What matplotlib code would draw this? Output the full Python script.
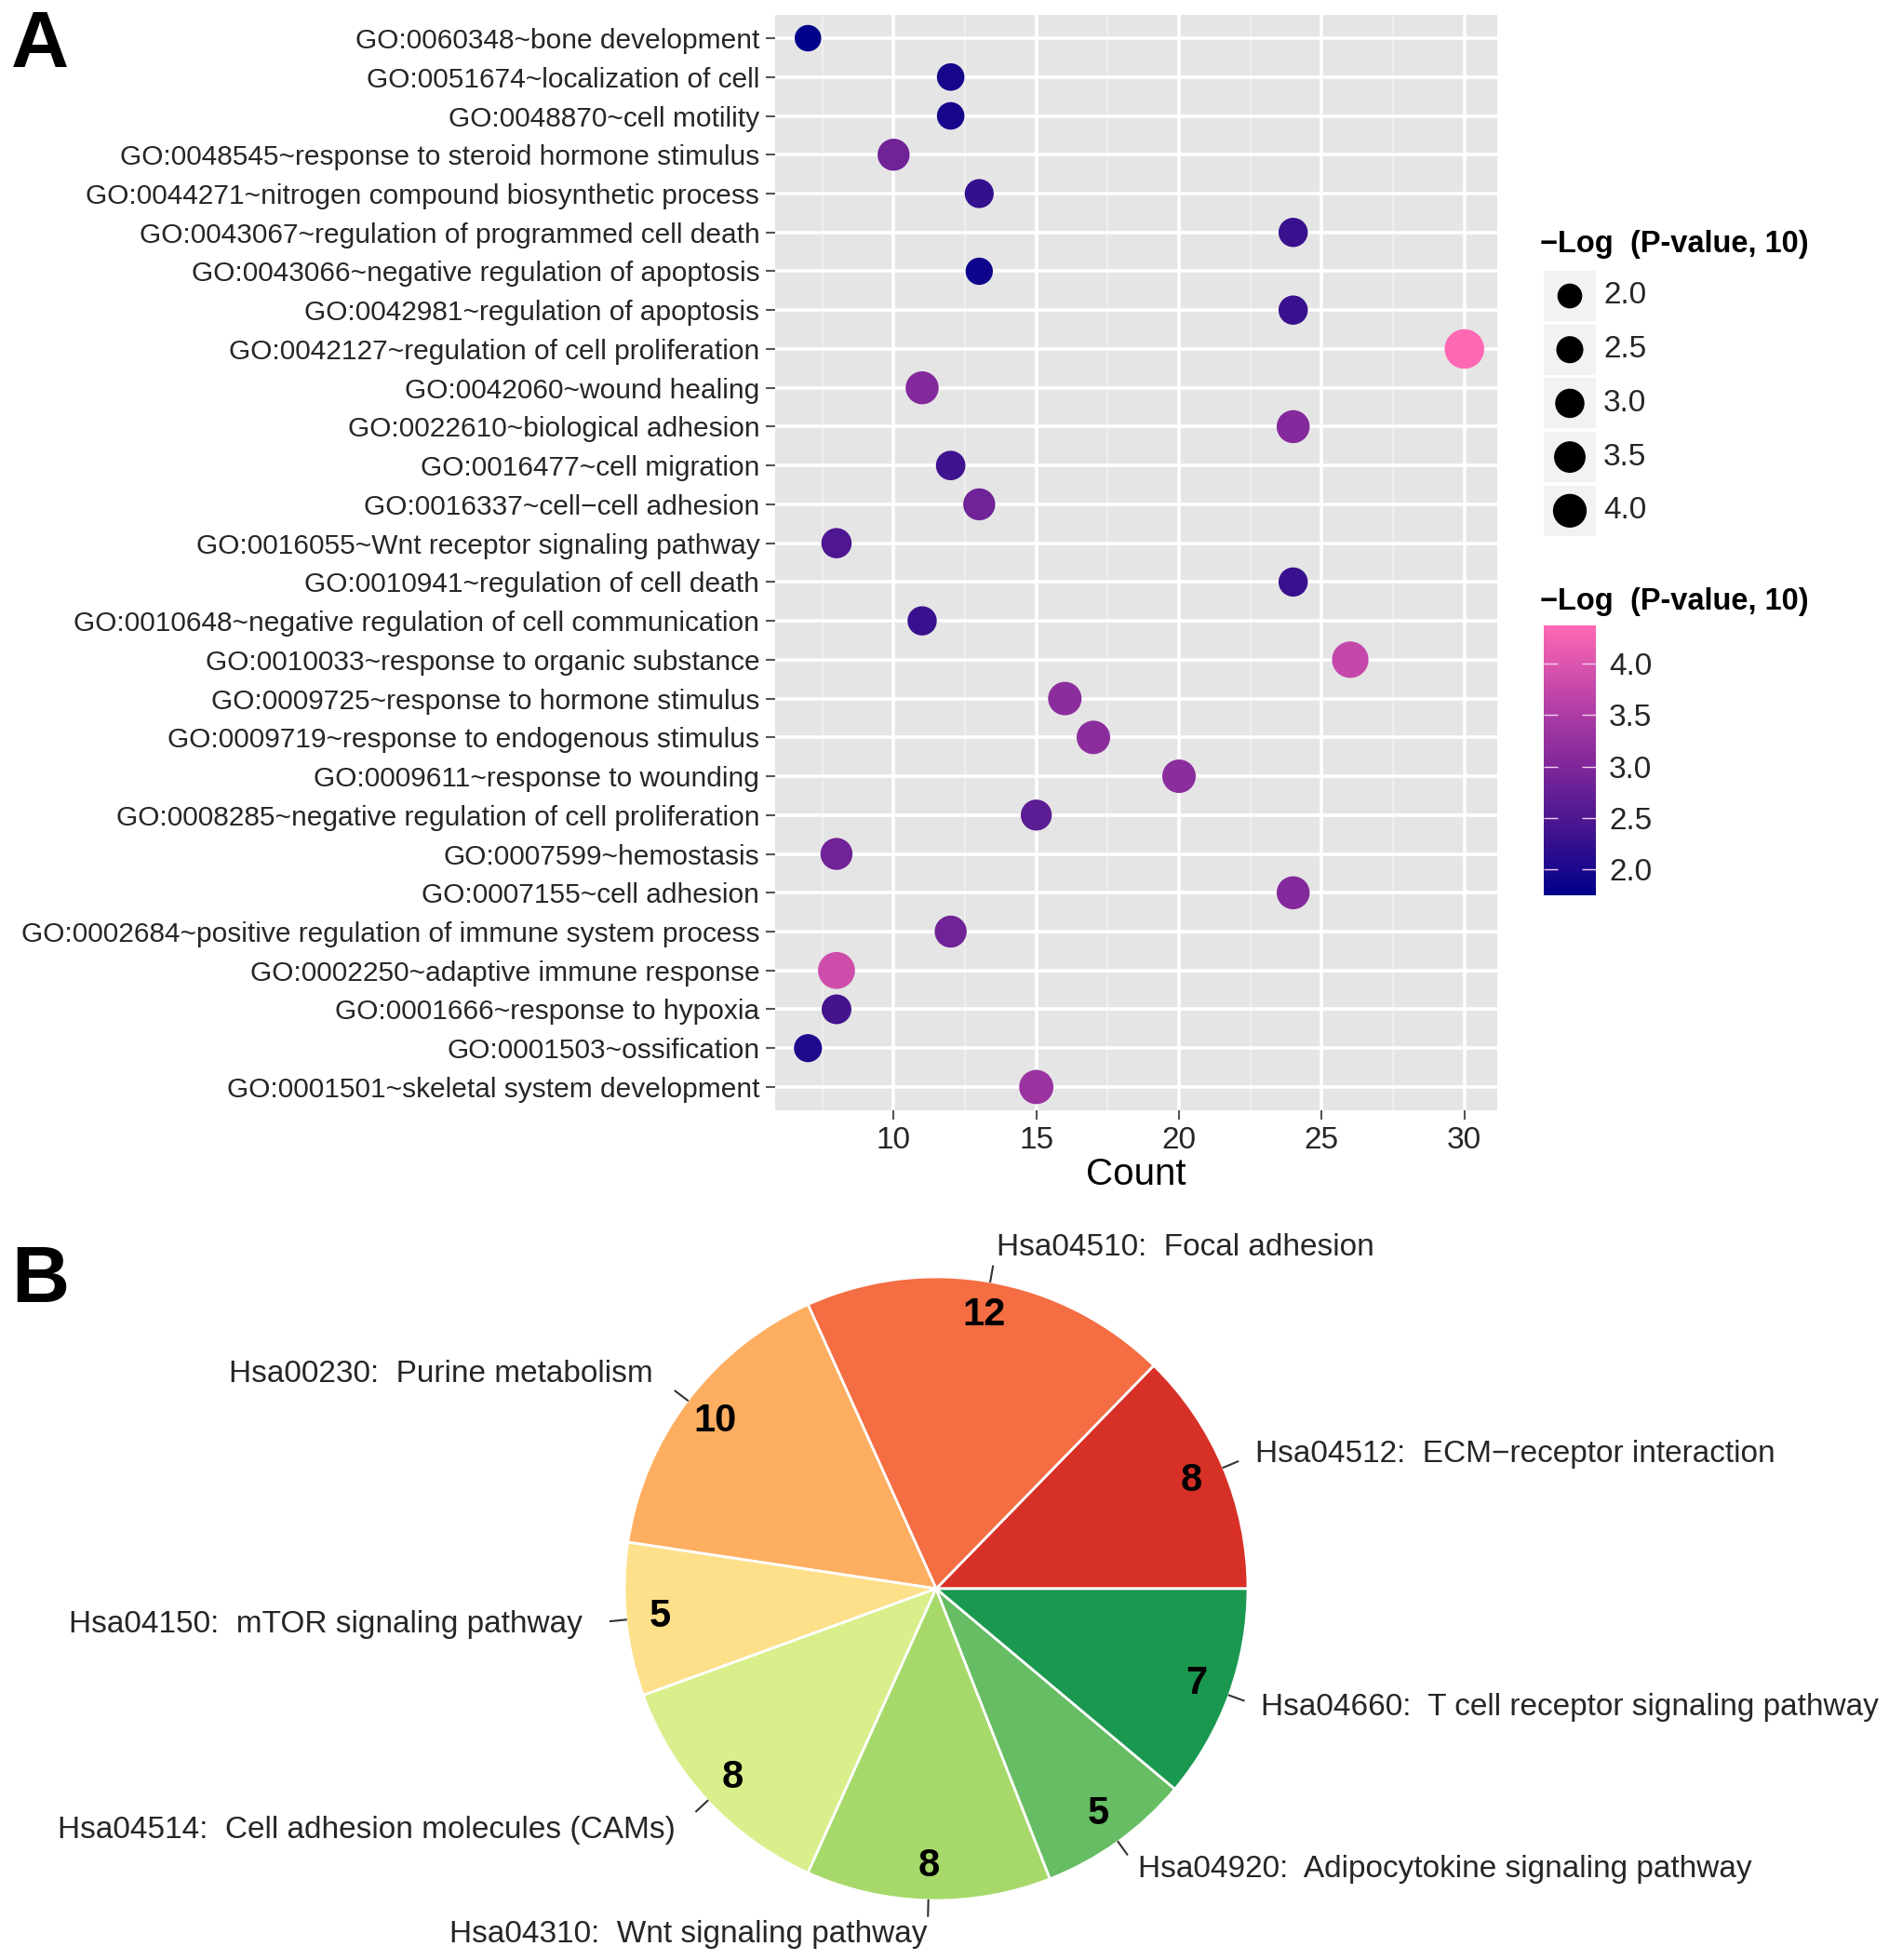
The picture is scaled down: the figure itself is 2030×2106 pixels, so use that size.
import matplotlib
matplotlib.use('Agg')
import matplotlib.pyplot as plt
import numpy as np
from matplotlib.colors import LinearSegmentedColormap, Normalize
from matplotlib.patches import Rectangle

plt.rcParams['font.family'] = ['Liberation Sans', 'DejaVu Sans']

# ---- Data: panel A (GO terms, top to bottom) ----
go_terms = [
    'GO:0060348~bone development',
    'GO:0051674~localization of cell',
    'GO:0048870~cell motility',
    'GO:0048545~response to steroid hormone stimulus',
    'GO:0044271~nitrogen compound biosynthetic process',
    'GO:0043067~regulation of programmed cell death',
    'GO:0043066~negative regulation of apoptosis',
    'GO:0042981~regulation of apoptosis',
    'GO:0042127~regulation of cell proliferation',
    'GO:0042060~wound healing',
    'GO:0022610~biological adhesion',
    'GO:0016477~cell migration',
    'GO:0016337~cell\u2212cell adhesion',
    'GO:0016055~Wnt receptor signaling pathway',
    'GO:0010941~regulation of cell death',
    'GO:0010648~negative regulation of cell communication',
    'GO:0010033~response to organic substance',
    'GO:0009725~response to hormone stimulus',
    'GO:0009719~response to endogenous stimulus',
    'GO:0009611~response to wounding',
    'GO:0008285~negative regulation of cell proliferation',
    'GO:0007599~hemostasis',
    'GO:0007155~cell adhesion',
    'GO:0002684~positive regulation of immune system process',
    'GO:0002250~adaptive immune response',
    'GO:0001666~response to hypoxia',
    'GO:0001503~ossification',
    'GO:0001501~skeletal system development',
]
go_count = [7, 12, 12, 10, 13, 24, 13, 24, 30, 11, 24, 12, 13, 8,
            24, 11, 26, 16, 17, 20, 15, 8, 24, 12, 8, 8, 7, 15]
go_neglog = [1.75, 1.95, 1.95, 2.85, 2.25, 2.3, 1.9, 2.3, 4.37, 3.05,
             3.05, 2.35, 2.85, 2.5, 2.3, 2.3, 3.75, 3.15, 3.15, 3.15,
             2.65, 2.85, 3.05, 2.85, 3.85, 2.4, 2.05, 3.3]
legend_values = [2.0, 2.5, 3.0, 3.5, 4.0]
x_ticks = [10, 15, 20, 25, 30]

# ---- Data: panel B (KEGG pathways, counter-clockwise from 3 o'clock) ----
kegg_labels = [
    'Hsa04512:  ECM\u2212receptor interaction',
    'Hsa04510:  Focal adhesion',
    'Hsa00230:  Purine metabolism',
    'Hsa04150:  mTOR signaling pathway',
    'Hsa04514:  Cell adhesion molecules (CAMs)',
    'Hsa04310:  Wnt signaling pathway',
    'Hsa04920:  Adipocytokine signaling pathway',
    'Hsa04660:  T cell receptor signaling pathway',
]
kegg_counts = [8, 12, 10, 5, 8, 8, 5, 7]
kegg_colors = ['#d73027', '#f46d43', '#fdae61', '#fee08b',
               '#d9ef8b', '#a6d96a', '#66bd63', '#1a9850']

W, H = 2031, 2106
fig = plt.figure(figsize=(W / 100, H / 100), dpi=100)

# colour scale: darkblue -> hotpink (approximating Lab interpolation)
cmap = LinearSegmentedColormap.from_list(
    'dbhp', ['#00008B', '#45148F', '#84299B', '#C045A9', '#FF69B4'])
vmin, vmax = min(go_neglog), max(go_neglog)
norm = Normalize(vmin, vmax)


def dot_size(v):
    d_px = 28.5 + 14 * (np.asarray(v) - vmin) / (vmax - vmin)
    return (d_px * 0.72) ** 2


text_col = '#262626'

# ---- Panel A ----
ax = fig.add_axes([833 / W, 1 - 1193 / H, 776 / W, 1177 / H])
ax.set_facecolor('#E5E5E5')
n = len(go_terms)
ypos = np.arange(n)[::-1]
ax.scatter(go_count, ypos, s=dot_size(go_neglog), c=go_neglog, cmap=cmap,
           norm=norm, zorder=3, linewidths=0)
ax.set_xlim(5.85, 31.15)
ax.set_ylim(-0.6, n - 0.4)
ax.set_yticks(ypos)
ax.set_yticklabels(go_terms)
ax.set_xticks(x_ticks)
ax.set_xticks([7.5, 12.5, 17.5, 22.5, 27.5], minor=True)
ax.grid(True, which='major', color='white', linewidth=2.6, zorder=0)
ax.grid(True, which='minor', axis='x', color='#F2F2F2', linewidth=1.2, zorder=0)
ax.set_axisbelow(True)
for sp in ax.spines.values():
    sp.set_visible(False)
ax.tick_params(axis='y', which='major', length=7, width=1.5, color='#555555',
               labelsize=21.5, labelcolor=text_col, pad=5)
ax.tick_params(axis='x', which='major', length=7, width=1.5, color='#555555',
               labelsize=24, labelcolor=text_col, pad=5)
ax.tick_params(axis='x', which='minor', length=0)
ax.set_xlabel('Count', fontsize=29, color='black', labelpad=2)

fig.text(12 / W, 1 - 50 / H, 'A', fontsize=62, fontweight='bold', va='center')
fig.text(12 / W, 1 - 1377 / H, 'B', fontsize=62, fontweight='bold', va='center')

# ---- Legends for panel A ----
lg = fig.add_axes([0, 0, 1, 1], zorder=5)
lg.set_xlim(0, W)
lg.set_ylim(H, 0)
lg.axis('off')
title = '\u2212Log  (P-value, 10)'
lg.text(1655, 262, title, fontsize=23.5, fontweight='bold', va='center', ha='left')
key_y = [318 + 57.7 * i for i in range(len(legend_values))]
for v, yk in zip(legend_values, key_y):
    lg.add_patch(Rectangle((1659, yk - 27), 56, 54, color='#F2F2F2', lw=0))
lg.scatter([1687] * len(legend_values), key_y, s=dot_size(legend_values) * 0.8,
           c='black', linewidths=0, zorder=3)
for v, yk in zip(legend_values, key_y):
    lg.text(1723, yk, f'{v:.1f}', fontsize=24, color=text_col, va='center')
lg.text(1655, 646, title, fontsize=23.5, fontweight='bold', va='center', ha='left')

cax = fig.add_axes([1659 / W, 1 - 962 / H, 56 / W, 290 / H])
sm = plt.cm.ScalarMappable(norm=norm, cmap=cmap)
cb = fig.colorbar(sm, cax=cax, ticks=legend_values)
cb.outline.set_visible(False)
cb.ax.set_yticklabels([f'{v:.1f}' for v in legend_values])
cax.tick_params(axis='y', direction='in', left=True, right=True, length=11,
                width=1, color='#F8D0F0', labelsize=24, labelcolor=text_col,
                pad=10)

# ---- Panel B: pie ----
R = 335
cx, cy = 1006, 1707
pax = fig.add_axes([(cx - R) / W, 1 - (cy + R) / H, 2 * R / W, 2 * R / H])
wedges, _ = pax.pie(kegg_counts, colors=kegg_colors, startangle=0,
                    counterclock=True, radius=1,
                    wedgeprops=dict(edgecolor='white', linewidth=2))
pax.set_xlim(-1, 1)
pax.set_ylim(-1, 1)
pax.set_aspect('equal')
pax.axis('off')
for w, lab, cnt in zip(wedges, kegg_labels, kegg_counts):
    ang = np.deg2rad((w.theta1 + w.theta2) / 2)
    c, s = np.cos(ang), np.sin(ang)
    pax.text(0.89 * c, 0.89 * s, str(cnt), fontsize=30, fontweight='bold',
             ha='center', va='center')
    pax.plot([1.0 * c, 1.05 * c], [1.0 * s, 1.05 * s], color='#333333',
             lw=1.5, clip_on=False)
    r_lab = 1.11 if (c >= 0 or abs(s) > 0.95) else 1.14
    pax.text(r_lab * c, r_lab * s, lab, fontsize=24, color=text_col,
             ha='left' if c >= 0 else 'right', va='center')

fig.savefig('out.png', dpi=100)
